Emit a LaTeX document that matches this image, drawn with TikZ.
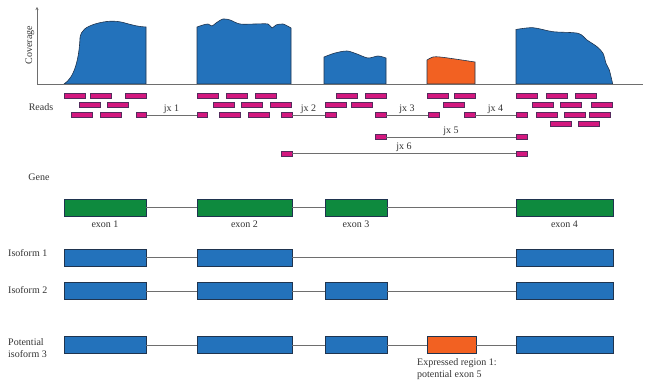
\documentclass[tikz,border=0pt]{standalone}
\usepackage{fontspec}
\setmainfont{Liberation Serif}
\usetikzlibrary{positioning,arrows.meta}

\definecolor{exonblue}{HTML}{2372BB}
\definecolor{exongreen}{HTML}{0E8A3E}
\definecolor{neworange}{HTML}{F26122}
\definecolor{readpink}{HTML}{D4177F}
\definecolor{boxedge}{HTML}{1F344F}
\definecolor{linegray}{HTML}{6E6E6E}
\definecolor{txtgray}{HTML}{333333}

\tikzstyle{exon} = [rectangle, minimum height=17pt, inner sep=0pt, draw=boxedge, line width=0.8pt]
\tikzstyle{gexon} = [exon, fill=exongreen]
\tikzstyle{bexon} = [exon, fill=exonblue]
\tikzstyle{oexon} = [exon, fill=neworange]
\tikzstyle{read} = [rectangle, minimum width=21pt, minimum height=5pt, inner sep=0pt, draw=boxedge!70!readpink, line width=0.5pt, fill=readpink]
\tikzstyle{readend} = [read, minimum width=10.5pt]
\tikzstyle{intron} = [draw=linegray, line width=0.9pt]
\tikzstyle{cov} = [draw=boxedge, line width=0.6pt]
\tikzstyle{txt} = [text=txtgray, font=\fontsize{10}{12}\selectfont, inner sep=1pt]

\begin{document}
\begin{tikzpicture}[x=1pt, y=-1pt]
\useasboundingbox (0,0) rectangle (647,387);

% coverage
\draw[cov, fill=exonblue] (64,84) .. controls (74,78) and (79,60) .. (80,38)
  .. controls (81,30) and (86,27) .. (95,24) .. controls (105,21) and (115,20) .. (125,23)
  .. controls (132,25) and (140,27) .. (146,27) -- (146,84) -- cycle;
\draw[cov, fill=exonblue] (197,84) -- plot[smooth] coordinates {(197,27) (203,25) (208,24) (212,26) (216,23) (223,19) (230,20) (240,24) (255,24) (268,24) (272,28) (276,25) (283,24) (291,28)} -- (291,84) -- cycle;
\draw[cov, fill=exonblue] (324,84) -- plot[smooth] coordinates {(324,57) (335,53) (347,51) (357,54) (368,58) (378,56) (386,58)} -- (386,84) -- cycle;
\draw[cov, fill=neworange] (427,84) -- plot[smooth] coordinates {(427,60) (433,57) (440,57) (455,59) (475,62)} -- (475,84) -- cycle;
\draw[cov, fill=exonblue] (516,84) -- plot[smooth] coordinates {(516,29.5) (533,27.7) (553,31.7) (578,33.3) (587,40) (597,46.7) (603,53.3) (606,63.3) (609.3,70) (612.7,84)} -- cycle;

% axes
\draw[intron, -{Stealth[length=3pt,width=3pt]}] (37,84) -- (37,7);
\draw[intron] (37,84) -- (643,84);
\node[txt, rotate=90] (cov) at (30,45) {Coverage};

% reads
\node[txt] (readslab) at (41,107) {Reads};
\foreach \x [count=\i] in {74.5,100.5,135.5,207.5,237,266,346.5,375.5,437.5,465,526.5,556.5,585.5}
  \node[read] (ra\i) at (\x,96) {};
\foreach \x [count=\i] in {90,118,223.5,251.5,280.5,335.5,361.5,453.5,542.5,571,602}
  \node[read] (rb\i) at (\x,105) {};
\foreach \x [count=\i] in {82,110.5,230,258.5,546.5,575,599.5}
  \node[read] (rc\i) at (\x,115) {};
\node[read] (rd1) at (560.5,124) {};
\node[read] (rd2) at (589,124) {};

% junction reads
\node[readend] (j1a) at (141,115) {};
\node[readend] (j1b) at (202,115) {};
\node[readend] (j2a) at (286.5,115) {};
\node[readend] (j2b) at (330.5,115) {};
\node[readend] (j3a) at (380.5,115) {};
\node[readend] (j3b) at (433.5,115) {};
\node[readend] (j4a) at (469.5,115) {};
\node[readend] (j4b) at (521.5,115) {};
\node[readend] (j5a) at (380.5,137) {};
\node[readend] (j5b) at (521.5,137) {};
\node[readend] (j6a) at (286.5,153.5) {};
\node[readend] (j6b) at (521.5,153.5) {};

\draw[intron] (j1a) -- node[txt, above] {jx 1} (j1b);
\draw[intron] (j2a) -- node[txt, above] {jx 2} (j2b);
\draw[intron] (j3a) -- node[txt, above] {jx 3} (j3b);
\draw[intron] (j4a) -- node[txt, above] {jx 4} (j4b);
\draw[intron] (j5a) -- node[txt, above] {jx 5} (j5b);
\draw[intron] (j6a) -- node[txt, above] {jx 6} (j6b);

% gene
\node[txt] (genelab) at (39,177) {Gene};
\node[gexon, minimum width=82pt] (g1) at (105,207.5) {};
\node[gexon, minimum width=95pt] (g2) at (244.5,207.5) {};
\node[gexon, minimum width=62pt] (g3) at (356,207.5) {};
\node[gexon, minimum width=97pt] (g4) at (564.5,207.5) {};
\draw[intron] (g1) -- (g2);
\draw[intron] (g2) -- (g3);
\draw[intron] (g3) -- (g4);
\node[txt, below=3pt of g1] {exon 1};
\node[txt, below=3pt of g2] {exon 2};
\node[txt, below=3pt of g3] {exon 3};
\node[txt, below=3pt of g4] {exon 4};

% isoform 1
\node[txt, anchor=west] (iso1) at (7,253) {Isoform 1};
\node[bexon, minimum width=82pt] (a1) at (105,257.5) {};
\node[bexon, minimum width=95pt] (a2) at (244.5,257.5) {};
\node[bexon, minimum width=97pt] (a4) at (564.5,257.5) {};
\draw[intron] (a1) -- (a2);
\draw[intron] (a2) -- (a4);

% isoform 2
\node[txt, anchor=west] (iso2) at (7,290) {Isoform 2};
\node[bexon, minimum width=82pt] (b1) at (105,291) {};
\node[bexon, minimum width=95pt] (b2) at (244.5,291) {};
\node[bexon, minimum width=62pt] (b3) at (356,291) {};
\node[bexon, minimum width=97pt] (b4) at (564.5,291) {};
\draw[intron] (b1) -- (b2);
\draw[intron] (b2) -- (b3);
\draw[intron] (b3) -- (b4);

% potential isoform 3
\node[txt, anchor=west, align=left] (iso3) at (7,348) {Potential\\isoform 3};
\node[bexon, minimum width=82pt] (c1) at (105,345) {};
\node[bexon, minimum width=95pt] (c2) at (244.5,345) {};
\node[bexon, minimum width=62pt] (c3) at (356,345) {};
\node[oexon, minimum width=49pt] (c5) at (451.5,345) {};
\node[bexon, minimum width=97pt] (c4) at (564.5,345) {};
\draw[intron] (c1) -- (c2);
\draw[intron] (c2) -- (c3);
\draw[intron] (c3) -- (c5);
\draw[intron] (c5) -- (c4);
\node[txt, anchor=north west, align=left] (newexon) at (416,357) {Expressed region 1:\\potential exon 5};
\end{tikzpicture}
\end{document}
